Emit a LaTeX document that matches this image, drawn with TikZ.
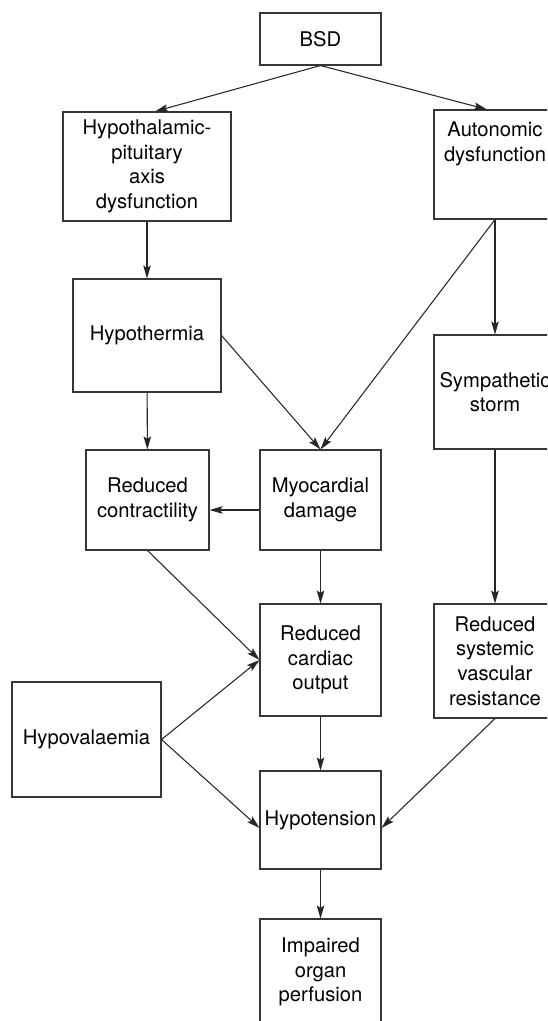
\documentclass[tikz,border=0pt]{standalone}
\usepackage{fontspec}
\setmainfont{TeX Gyre Heros}
\usepackage{tikz}
\usetikzlibrary{arrows.meta,positioning}
\definecolor{boxgrey}{RGB}{55,55,55}

\begin{document}
\begin{tikzpicture}[
    box/.style={rectangle, draw=boxgrey, line width=0.6pt, minimum width=2.42cm,
        inner sep=1pt, align=center, font=\fontsize{11.5}{14}\selectfont},
    arr/.style={-{Stealth[length=2.6mm, width=1.5mm, inset=0.5mm]}, line width=0.6pt, black!85}
]
    \useasboundingbox (0,0) rectangle (10.94,-20.42);
    \clip (0,0) rectangle (10.94,-20.42);

    % === Top: cause and the two branches ===
    \node[box, minimum height=1.04cm] (bsd) at (6.41,-0.78) {BSD};
    \node[box, minimum width=3.36cm, minimum height=2.18cm] (hpa) at (2.94,-3.33)
        {Hypothalamic-\\pituitary\\axis\\dysfunction};
    \node[box, minimum width=2.44cm, minimum height=2.18cm] (auton) at (9.90,-3.29)
        {Autonomic\\dysfunction\\[12pt]\mbox{}};

    \draw[arr] (bsd.south) -- ([xshift=0.16cm]hpa.north);
    \draw[arr] (bsd.south) -- ([xshift=-0.16cm]auton.north);

    % === Middle rows ===
    \node[box, minimum width=2.96cm, minimum height=2.26cm] (hypoth) at (2.94,-6.71) {Hypothermia};
    \node[box, minimum width=2.44cm, minimum height=2.28cm] (symp) at (9.90,-7.84) {Sympathetic\\storm};
    \node[box, minimum width=2.46cm, minimum height=2.0cm] (redcon) at (2.95,-10.0) {Reduced\\contractility};
    \node[box, minimum height=2.0cm] (myo) at (6.41,-10.0) {Myocardial\\damage};

    \draw[arr] (hpa) -- (hypoth);
    \draw[arr] (auton) -- (symp);
    \draw[arr] (auton.south) -- (myo.north);
    \draw[arr] (hypoth.east) -- (myo.north);
    \draw[arr] (hypoth) -- (redcon);
    \draw[arr] ([yshift=-0.2cm]myo.west) -- ([yshift=-0.2cm]redcon.east);

    % === Lower rows ===
    \node[box, minimum height=2.24cm] (rco) at (6.41,-13.2) {Reduced\\cardiac\\output};
    \node[box, minimum width=2.44cm, minimum height=2.28cm] (rsvr) at (9.90,-13.22)
        {Reduced\\systemic\\vascular\\resistance};
    \node[box, minimum width=2.98cm, minimum height=2.30cm] (hypov) at (1.73,-14.79) {Hypovalaemia};
    \node[box, minimum height=1.96cm] (hypot) at (6.41,-16.4) {Hypotension};
    \node[box, minimum height=2.12cm] (organ) at (6.41,-19.44) {Impaired\\organ\\perfusion};

    \draw[arr] (myo) -- (rco);
    \draw[arr] (redcon.south) -- (rco.west);
    \draw[arr] (hypov.east) -- (rco.west);
    \draw[arr] (symp) -- (rsvr);
    \draw[arr] (hypov.east) -- ([yshift=-0.16cm]hypot.west);
    \draw[arr] (rsvr.south) -- ([yshift=-0.16cm]hypot.east);
    \draw[arr] (rco) -- (hypot);
    \draw[arr] (hypot) -- (organ);
\end{tikzpicture}
\end{document}
